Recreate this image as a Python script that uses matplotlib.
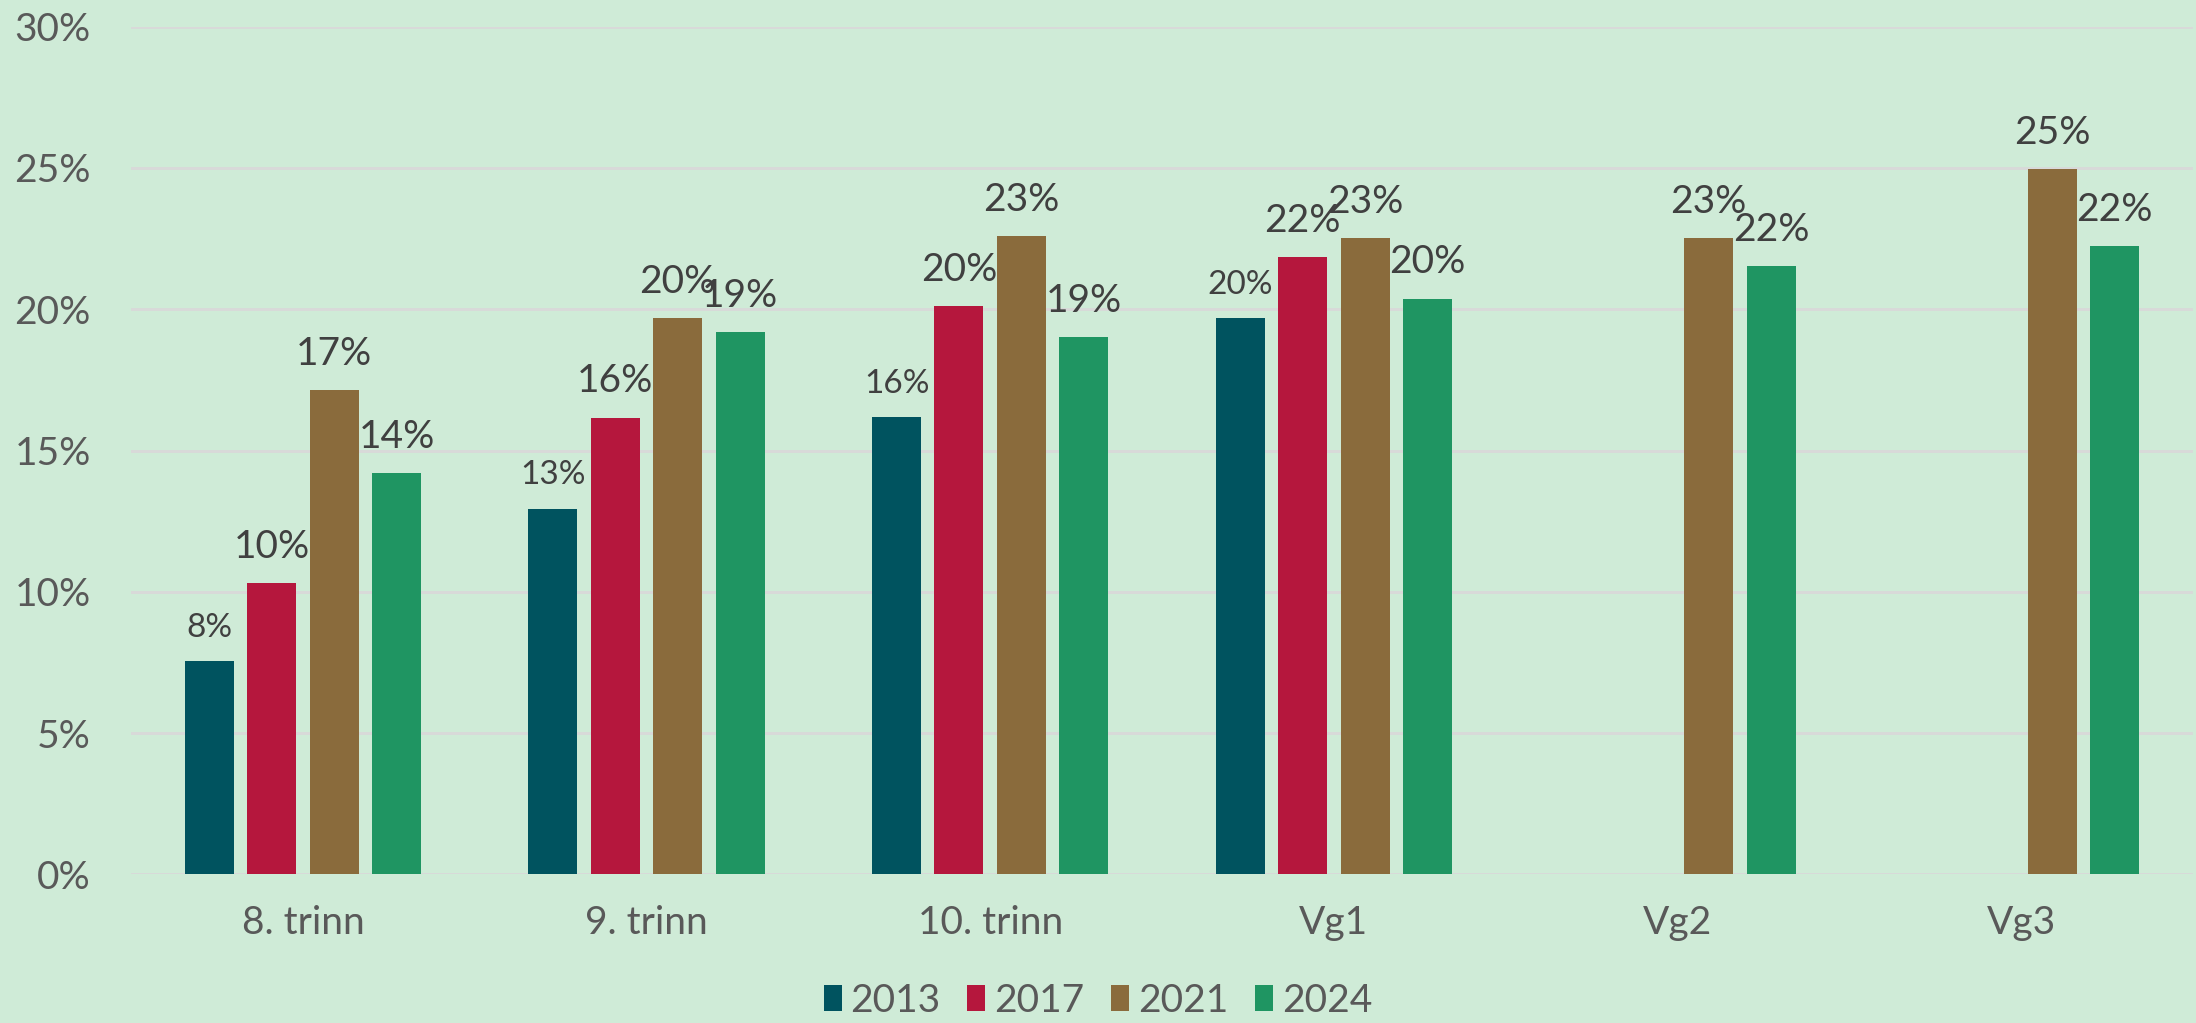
import numpy as np
import matplotlib.pyplot as plt

categories = ['8. trinn', '9. trinn', '10. trinn', 'Vg1', 'Vg2', 'Vg3']
years = ['2013', '2017', '2021', '2024']
v2013 = [7.55, 12.95, 16.2, 19.7, np.nan, np.nan]
v2017 = [10.3, 16.17, 20.13, 21.85, np.nan, np.nan]
v2021 = [17.13, 19.7, 22.58, 22.52, 22.52, 24.95]
v2024 = [14.2, 19.21, 19.02, 20.38, 21.53, 22.23]
yticks = [0, 5, 10, 15, 20, 25, 30]

colors = ['#00535F', '#B5173D', '#8A6B3C', '#1F9562']
bg = '#CFEBD7'

plt.rcParams['font.family'] = ['Lato', 'DejaVu Sans']

fig = plt.figure(figsize=(21.96, 10.23), dpi=100, facecolor=bg)
ax = fig.add_axes([0.0597, 0.1452, 0.9389, 0.8287], facecolor=bg)

x = np.arange(len(categories))
pitch = 0.1816
width = 0.1426
series = [v2013, v2017, v2021, v2024]
for i, (vals, c, yr) in enumerate(zip(series, colors, years)):
    bars = ax.bar(x + (i - 1.5) * pitch, vals, width, color=c, label=yr, zorder=3)
    labels = ['' if np.isnan(v) else f'{round(v + 1e-9):.0f}%' for v in vals]
    size = 24 if i == 0 else 28
    ax.bar_label(bars, labels=labels, padding=13, fontsize=size, color='#404040')

ax.set_xlim(-0.5, 5.5)
ax.set_ylim(0, 30)
ax.set_yticks(yticks)
ax.set_yticklabels([f'{t}%' for t in yticks])
ax.set_xticks(x)
ax.set_xticklabels(categories)
ax.tick_params(axis='both', length=0, labelsize=28, labelcolor='#595959')
ax.tick_params(axis='y', pad=29)
ax.tick_params(axis='x', pad=22)
ax.grid(axis='y', color='#D9D9D9', linewidth=2, zorder=0)
for s in ax.spines.values():
    s.set_visible(False)

fig.legend(loc='lower center', bbox_to_anchor=(0.5, -0.03), ncol=4, frameon=False,
           fontsize=28, labelcolor='#595959', handlelength=0.46, handleheight=0.62,
           handletextpad=0.23, columnspacing=0.69)

fig.savefig('out.png', dpi=100, facecolor=bg)
